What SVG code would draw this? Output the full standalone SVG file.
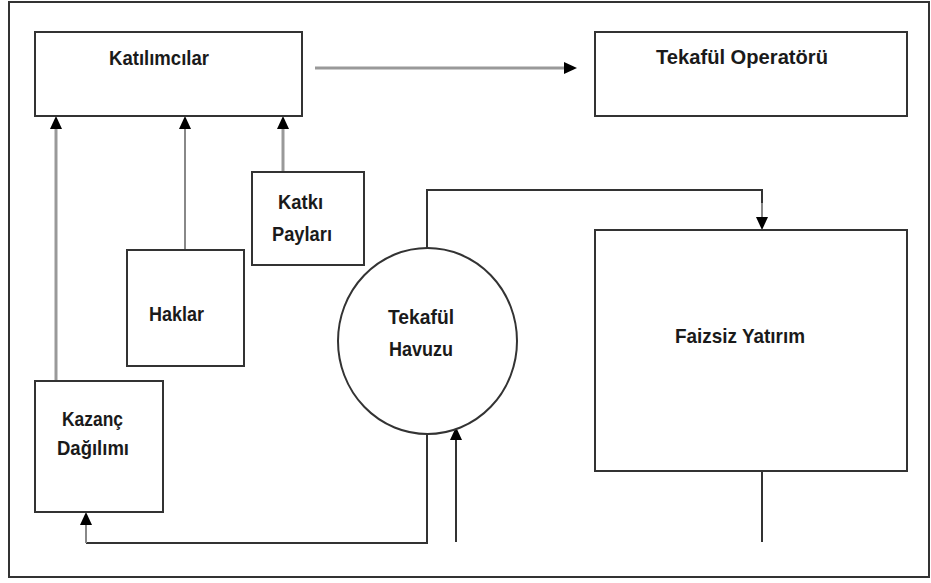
<svg xmlns="http://www.w3.org/2000/svg" width="931" height="583" viewBox="0 0 931 583">
<style>
.box{fill:#fff;stroke:#333;stroke-width:2}
.frame{fill:none;stroke:#333;stroke-width:2}
.t{font-family:"Liberation Sans",Arial,sans-serif;font-weight:bold;font-size:21px;fill:#1a1a1a}
.cg{fill:none;stroke:#999;stroke-width:3}
.cd{fill:none;stroke:#333;stroke-width:2}
.cm{fill:none;stroke:#888;stroke-width:2}
</style>
<defs>
<marker id="ah" viewBox="0 0 13 12" refX="0" refY="6" markerWidth="13" markerHeight="12" markerUnits="userSpaceOnUse" orient="auto">
<path d="M0,0 L13,6 L0,12 z" fill="#000"/>
</marker>
</defs>
<rect class="frame" x="9" y="2" width="920" height="575"/>
<g id="connectors">
<line class="cg" x1="315" y1="68" x2="564" y2="68" marker-end="url(#ah)"/>
<line class="cg" x1="56" y1="381" x2="56" y2="129" marker-end="url(#ah)"/>
<line class="cm" x1="185" y1="250" x2="185" y2="129" marker-end="url(#ah)"/>
<line class="cg" x1="283" y1="172" x2="283" y2="129" marker-end="url(#ah)"/>
<polyline class="cd" points="427,248 427,190 762,190 762,203"/>
<line class="cm" x1="762" y1="203" x2="762" y2="217" marker-end="url(#ah)"/>
<polyline class="cd" points="427,434 427,543 86,543"/>
<line class="cm" x1="86" y1="543" x2="86" y2="525" marker-end="url(#ah)"/>
<line class="cd" x1="456" y1="542" x2="456" y2="440" marker-end="url(#ah)"/>
<line class="cd" x1="762" y1="471" x2="762" y2="542"/>
</g>
<g id="katilimcilar">
<rect class="box" x="35" y="32" width="267" height="84"/>
<text class="t" x="109" y="65" textLength="100" lengthAdjust="spacingAndGlyphs">Katılımcılar</text>
</g>
<g id="tekaful-operatoru">
<rect class="box" x="595" y="32" width="312" height="84"/>
<text class="t" x="656" y="64" textLength="172" lengthAdjust="spacingAndGlyphs">Tekafül Operatörü</text>
</g>
<g id="katki-paylari">
<rect class="box" x="252" y="172" width="112" height="93"/>
<text class="t" x="278" y="209" textLength="45" lengthAdjust="spacingAndGlyphs">Katkı</text>
<text class="t" x="272" y="241" textLength="60" lengthAdjust="spacingAndGlyphs">Payları</text>
</g>
<g id="haklar">
<rect class="box" x="127" y="250" width="117" height="116"/>
<text class="t" x="149" y="321" textLength="55" lengthAdjust="spacingAndGlyphs">Haklar</text>
</g>
<g id="kazanc-dagilimi">
<rect class="box" x="35" y="381" width="128" height="131"/>
<text class="t" x="62" y="426" textLength="61" lengthAdjust="spacingAndGlyphs">Kazanç</text>
<text class="t" x="57" y="455" textLength="72" lengthAdjust="spacingAndGlyphs">Dağılımı</text>
</g>
<g id="tekaful-havuzu">
<ellipse class="box" cx="427.5" cy="341" rx="89.5" ry="93"/>
<text class="t" x="388" y="324" textLength="66" lengthAdjust="spacingAndGlyphs">Tekafül</text>
<text class="t" x="389" y="356" textLength="64" lengthAdjust="spacingAndGlyphs">Havuzu</text>
</g>
<g id="faizsiz-yatirim">
<rect class="box" x="595" y="230" width="312" height="241"/>
<text class="t" x="675" y="343" textLength="130" lengthAdjust="spacingAndGlyphs">Faizsiz Yatırım</text>
</g>
</svg>
